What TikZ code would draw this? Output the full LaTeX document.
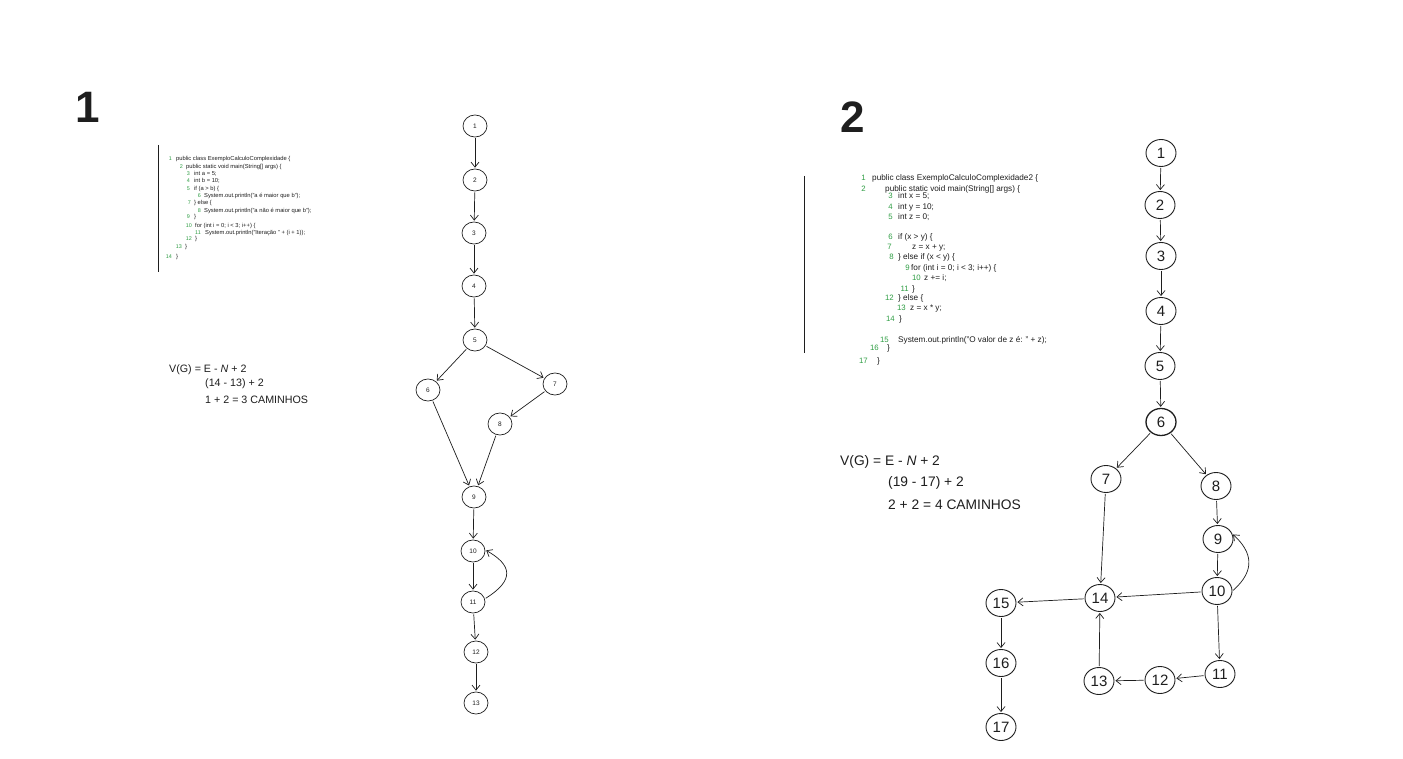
\documentclass[tikz,border=0pt]{standalone}
\usepackage{fontspec}
\setmainfont{Liberation Sans}
\usetikzlibrary{arrows.meta,shapes.geometric}
\definecolor{ink}{HTML}{1E1E1E}
\definecolor{lnum}{HTML}{2F9E44}
\tikzset{
  gA/.style={ellipse,draw=ink,line width=0.7pt,minimum width=24pt,minimum height=22pt,inner sep=0pt,font=\fontsize{6.5}{6.5}\selectfont,text=ink},
  gB/.style={ellipse,draw=ink,line width=0.9pt,minimum width=30pt,minimum height=27pt,inner sep=0pt,font=\fontsize{15}{15}\selectfont,text=ink},
  arr/.style={draw=ink,line width=0.7pt,-{Straight Barb[length=5pt,width=8pt]},shorten >=1pt,shorten <=1pt},
  cA/.style={anchor=base west,inner sep=0pt,font=\fontsize{5.8}{5.8}\selectfont,text=ink},
  nA/.style={anchor=base east,inner sep=0pt,font=\fontsize{5.4}{5.4}\selectfont,text=lnum},
  cB/.style={anchor=base west,inner sep=0pt,font=\fontsize{8.2}{8.2}\selectfont,text=ink},
  nB/.style={anchor=base east,inner sep=0pt,font=\fontsize{7.8}{7.8}\selectfont,text=lnum},
  vA/.style={anchor=base west,inner sep=0pt,font=\fontsize{10.7}{10.7}\selectfont,text=ink},
  vB/.style={anchor=base west,inner sep=0pt,font=\fontsize{13.8}{13.8}\selectfont,text=ink},
  big/.style={anchor=center,inner sep=0pt,font=\fontsize{44}{44}\selectfont\bfseries,text=ink}
}
\begin{document}
\begin{tikzpicture}[x=1pt,y=-1pt]
\useasboundingbox[fill=white] (0,0) rectangle (1403,759);

% titles
\node[big] (t1) at (88,107) {1};
\node[big] (t2) at (853,117) {2};

% ---------- code block 1 ----------
\draw[ink,line width=0.8pt] (158,145) -- (158,272);
\node[nA] (a1) at (172,161) {1};  \node[cA] at (176,161) {public class ExemploCalculoComplexidade \{};
\node[nA] (a2) at (183,169) {2};  \node[cA] at (186,169) {public static void main(String[] args) \{};
\node[nA] (a3) at (190,176) {3};  \node[cA] at (194,176) {int a = 5;};
\node[nA] (a4) at (190,183) {4};  \node[cA] at (194,183) {int b = 10;};
\node[nA] (a5) at (190,191) {5};  \node[cA] at (194,191) {if (a > b) \{};
\node[nA] (a6) at (201,198) {6};  \node[cA] at (204,198) {System.out.println("a é maior que b");};
\node[nA] (a7) at (191,205) {7};  \node[cA] at (194,205) {\} else \{};
\node[nA] (a8) at (201,213) {8};  \node[cA] at (204,213) {System.out.println("a não é maior que b");};
\node[nA] (a9) at (190,219) {9};  \node[cA] at (194,219) {\}};
\node[nA] (a10) at (192,228) {10}; \node[cA] at (195,228) {for (int i = 0; i < 3; i++) \{};
\node[nA] (a11) at (201,235) {11}; \node[cA] at (205,235) {System.out.println("Iteração " + (i + 1));};
\node[nA] (a12) at (192,241) {12}; \node[cA] at (195,241) {\}};
\node[nA] (a13) at (182,249) {13}; \node[cA] at (185,249) {\}};
\node[nA] (a14) at (172,259) {14}; \node[cA] at (176,259) {\}};

% ---------- V(G) 1 ----------
\node[vA] (va1) at (169,372) {V(G) = E - \textit{N} + 2};
\node[vA] (va2) at (205,386) {(14 - 13) + 2};
\node[vA] (va3) at (205,403) {1 + 2 = 3 CAMINHOS};

% ---------- graph 1 ----------
\node[gA] (p1) at (475,126) {1};
\node[gA] (p2) at (475,180) {2};
\node[gA] (p3) at (474,233) {3};
\node[gA] (p4) at (474,286) {4};
\node[gA] (p5) at (475,340) {5};
\node[gA] (p6) at (428,390) {6};
\node[gA] (p7) at (555,384) {7};
\node[gA] (p8) at (500,424) {8};
\node[gA] (p9) at (474,497) {9};
\node[gA] (p10) at (473,551) {10};
\node[gA] (p11) at (473,602) {11};
\node[gA] (p12) at (476,652) {12};
\node[gA] (p13) at (476,703) {13};
\draw[arr] (p1) -- (p2);
\draw[arr] (p2) -- (p3);
\draw[arr] (p3) -- (p4);
\draw[arr] (p4) -- (p5);
\draw[arr] (p5) -- (p6);
\draw[arr] (p5) -- (p7);
\draw[arr] (p7) -- (p8);
\draw[arr] (p6) -- (p9);
\draw[arr] (p8) -- (p9);
\draw[arr] (p9) -- (p10);
\draw[arr] (p10) -- (p11);
\draw[arr] (p11) -- (p12);
\draw[arr] (p12) -- (p13);
\draw[arr] (p11.15) .. controls (515,580) and (512,565) .. (p10.5);

% ---------- code block 2 ----------
\draw[ink,line width=0.8pt] (804,176) -- (804,353);
\node[nB] (b1) at (866,181) {1};   \node[cB] at (872,181) {public class ExemploCalculoComplexidade2 \{};
\node[nB] (b2) at (866,192) {2};   \node[cB] at (885,192) {public static void main(String[] args) \{};
\node[nB] (b3) at (893,199) {3};   \node[cB] at (898,199) {int x = 5;};
\node[nB] (b4) at (893,210) {4};   \node[cB] at (898,210) {int y = 10;};
\node[nB] (b5) at (893,220) {5};   \node[cB] at (898,220) {int z = 0;};
\node[nB] (b6) at (893,240) {6};   \node[cB] at (898,240) {if (x > y) \{};
\node[nB] (b7) at (892,250) {7};   \node[cB] at (912,250) {z = x + y;};
\node[nB] (b8) at (894,260) {8};   \node[cB] at (898,260) {\} else if (x < y) \{};
\node[nB] (b9) at (910,271) {9};   \node[cB] at (911,271) {for (int i = 0; i < 3; i++) \{};
\node[nB] (b10) at (921,281) {10}; \node[cB] at (924,281) {z += i;};
\node[nB] (b11) at (909,292) {11}; \node[cB] at (912,292) {\}};
\node[nB] (b12) at (894,301) {12}; \node[cB] at (898,301) {\} else \{};
\node[nB] (b13) at (906,311) {13}; \node[cB] at (910,311) {z = x * y;};
\node[nB] (b14) at (895,322) {14}; \node[cB] at (899,322) {\}};
\node[nB] (b15) at (889,342) {15}; \node[cB] at (898,342) {System.out.println("O valor de z é: " + z);};
\node[nB] (b16) at (879,350) {16}; \node[cB] at (887,350) {\}};
\node[nB] (b17) at (868,363) {17}; \node[cB] at (877,363) {\}};

% ---------- V(G) 2 ----------
\node[vB] (vb1) at (840,465) {V(G) = E - \textit{N} + 2};
\node[vB] (vb2) at (888,486) {(19 - 17) + 2};
\node[vB] (vb3) at (888,509) {2 + 2 = 4 CAMINHOS};

% ---------- graph 2 ----------
\node[gB] (q1) at (1161,153) {1};
\node[gB] (q2) at (1160,205) {2};
\node[gB] (q3) at (1161,256) {3};
\node[gB] (q4) at (1161,311) {4};
\node[gB] (q5) at (1160,366) {5};
\node[gB,line width=1.3pt] (q6) at (1161,422) {6};
\node[gB] (q7) at (1106,479) {7};
\node[gB] (q8) at (1216,486) {8};
\node[gB] (q9) at (1218,539) {9};
\node[gB] (q10) at (1217,591) {10};
\node[gB] (q11) at (1220,674) {11};
\node[gB] (q12) at (1160,680) {12};
\node[gB] (q13) at (1099,681) {13};
\node[gB] (q14) at (1100,598) {14};
\node[gB] (q15) at (1001,603) {15};
\node[gB] (q16) at (1001,663) {16};
\node[gB] (q17) at (1001,727) {17};
\draw[arr] (q1) -- (q2);
\draw[arr] (q2) -- (q3);
\draw[arr] (q3) -- (q4);
\draw[arr] (q4) -- (q5);
\draw[arr] (q5) -- (q6);
\draw[arr] (q6) -- (q7);
\draw[arr] (q6) -- (q8);
\draw[arr] (q8) -- (q9);
\draw[arr] (q9) -- (q10);
\draw[arr] (q10.east) .. controls (1256,570) and (1252,552) .. (q9.20);
\draw[arr] (q10) -- (q14);
\draw[arr] (q10) -- (q11);
\draw[arr] (q11) -- (q12);
\draw[arr] (q12) -- (q13);
\draw[arr] (q13) -- (q14);
\draw[arr] (q7) -- (q14);
\draw[arr] (q14) -- (q15);
\draw[arr] (q15) -- (q16);
\draw[arr] (q16) -- (q17);
\end{tikzpicture}
\end{document}
